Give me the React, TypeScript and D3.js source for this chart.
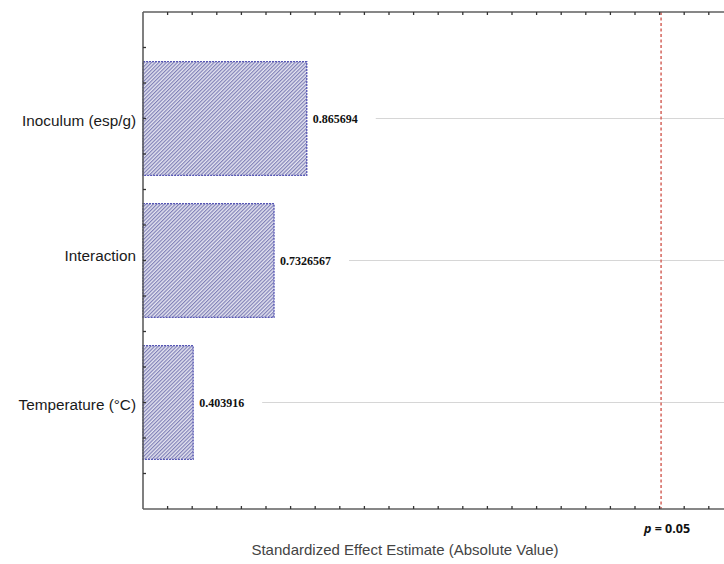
import React, { useEffect, useRef } from "react";
import * as d3 from "d3";

// Effect names and their standardized effect estimates
const factors = ["Inoculum (esp/g)", "Interaction", "Temperature (°C)"];
const effects = [0.865694, 0.7326567, 0.403916];
const valueLabels = ["0.865694", "0.7326567", "0.403916"];
const criticalValue = 2.306;
const criticalLabel = "0.05";
const xTitle = "Standardized Effect Estimate (Absolute Value)";

const W = 724;
const H = 564;

export default function App() {
  const ref = useRef<SVGSVGElement | null>(null);

  useEffect(() => {
    const svg = d3.select(ref.current);
    svg.selectAll("*").remove();

    const left = 143;
    const top = 12;
    const bottom = 509;

    const x = d3.scaleLinear().domain([0.2, 2.56]).range([left, left + 2.36 * 246]);
    const y = d3.scaleLinear().domain([0.25, 3.75]).range([top, bottom]);
    const right = W + 2;

    const defs = svg.append("defs");
    const step = 2.6;
    const pat = defs
      .append("pattern")
      .attr("id", "hatch")
      .attr("patternUnits", "userSpaceOnUse")
      .attr("width", step)
      .attr("height", step)
      .attr("patternTransform", "rotate(45)");
    pat.append("rect").attr("width", step).attr("height", step).attr("fill", "#e4e4f0");
    pat
      .append("line")
      .attr("x1", 0.6)
      .attr("y1", 0)
      .attr("x2", 0.6)
      .attr("y2", step)
      .attr("stroke", "#7a7ab4")
      .attr("stroke-width", 1.1);

    svg.append("rect").attr("width", W).attr("height", H).attr("fill", "#fff");

    const g = svg.append("g");

    // faint guide lines at each factor
    const guides = g.append("g");

    // bars
    factors.forEach((f, i) => {
      const c = i + 1;
      g.append("rect")
        .attr("x", x(0.2))
        .attr("y", y(c - 0.4))
        .attr("width", x(effects[i]) - x(0.2))
        .attr("height", y(c + 0.4) - y(c - 0.4))
        .attr("fill", "url(#hatch)")
        .attr("stroke", "#5656b4")
        .attr("stroke-width", 1.3)
        .attr("stroke-dasharray", "2,1");

      const label = g
        .append("text")
        .attr("x", x(effects[i]) + 6)
        .attr("y", y(c))
        .attr("dy", "0.35em")
        .attr("font-family", "'Liberation Serif', 'DejaVu Serif', serif")
        .attr("font-weight", "bold")
        .attr("font-size", 12)
        .attr("fill", "#111")
        .text(valueLabels[i]);
      const tw = (label.node() as SVGTextElement).getComputedTextLength();
      guides
        .append("line")
        .attr("x1", x(effects[i]) + 6 + tw + 18)
        .attr("x2", right)
        .attr("y1", y(c))
        .attr("y2", y(c))
        .attr("stroke", "#d6d6d6")
        .attr("stroke-width", 1.2);

      g.append("text")
        .attr("x", 136)
        .attr("y", y(c) + (i === 1 ? -5 : 2))
        .attr("dy", "0.35em")
        .attr("text-anchor", "end")
        .attr("font-family", "'Liberation Sans', Arial, sans-serif")
        .attr("font-size", 15.3)
        .attr("fill", "#1a1a1a")
        .text(f);
    });

    // critical value line
    g.append("line")
      .attr("x1", x(criticalValue))
      .attr("x2", x(criticalValue))
      .attr("y1", top)
      .attr("y2", bottom)
      .attr("stroke", "#d4655c")
      .attr("stroke-width", 1.5)
      .attr("stroke-dasharray", "3,2.5");

    const pLabel = g
      .append("text")
      .attr("x", x(criticalValue) + 6)
      .attr("y", 533)
      .attr("text-anchor", "middle")
      .attr("font-family", "'Open Sans', 'Liberation Sans', sans-serif")
      .attr("font-weight", "bold")
      .attr("font-size", 12.5)
      .attr("fill", "#111");
    pLabel.append("tspan").attr("font-style", "italic").text("p");
    pLabel.append("tspan").text(" = " + criticalLabel);

    // frame
    const frame = "#5f5f5f";
    g.append("line").attr("x1", left).attr("x2", right).attr("y1", top).attr("y2", top)
      .attr("stroke", frame).attr("stroke-width", 1.6);
    g.append("line").attr("x1", left).attr("x2", right).attr("y1", bottom).attr("y2", bottom)
      .attr("stroke", frame).attr("stroke-width", 1.6);
    g.append("line").attr("x1", left).attr("x2", left).attr("y1", top).attr("y2", bottom)
      .attr("stroke", frame).attr("stroke-width", 1.6);

    // inward ticks
    const xt = d3.range(3, 26).map((k) => k / 10);
    xt.forEach((v) => {
      g.append("line").attr("x1", x(v)).attr("x2", x(v)).attr("y1", top).attr("y2", top + 3)
        .attr("stroke", "#333").attr("stroke-width", 1.3);
      g.append("line").attr("x1", x(v)).attr("x2", x(v)).attr("y1", bottom).attr("y2", bottom - 3)
        .attr("stroke", "#333").attr("stroke-width", 1.3);
    });
    const yt = d3.range(2, 15).map((k) => k / 4);
    yt.forEach((v) => {
      g.append("line").attr("x1", left).attr("x2", left + 3).attr("y1", y(v)).attr("y2", y(v))
        .attr("stroke", "#333").attr("stroke-width", 1.3);
    });

    g.append("text")
      .attr("x", 405)
      .attr("y", 555)
      .attr("text-anchor", "middle")
      .attr("font-family", "'Liberation Sans', Arial, sans-serif")
      .attr("font-size", 15)
      .attr("fill", "#444")
      .text(xTitle);
  }, []);

  return (
    <svg
      ref={ref}
      width={W}
      height={H}
      style={{ position: "absolute", left: 0, top: 0, display: "block" }}
    />
  );
}
